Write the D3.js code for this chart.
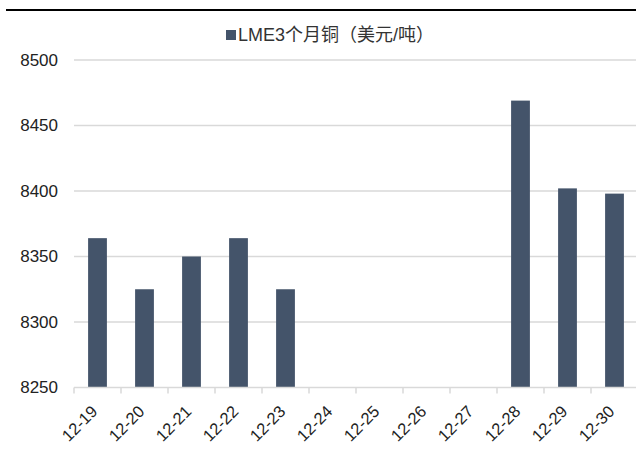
<!DOCTYPE html>
<html>
<head>
<meta charset="utf-8">
<script src="https://cdn.jsdelivr.net/npm/d3@7/dist/d3.min.js"></script>
<style>
  html, body { margin: 0; padding: 0; background: #fff; }
  svg { display: block; }
  text { font-family: "Liberation Sans", Arial, "Noto Sans CJK SC", sans-serif; }
</style>
</head>
<body>
<svg id="chart" width="636" height="461"></svg>
<script>
// LME 3-month copper, USD per tonne (no trading 12-24 to 12-27)
const categories = ["12-19", "12-20", "12-21", "12-22", "12-23", "12-24", "12-25", "12-26", "12-27", "12-28", "12-29", "12-30"];
const values = [8364, 8325, 8350, 8364, 8325, null, null, null, null, 8469, 8402, 8398];
const yTicks = [8250, 8300, 8350, 8400, 8450, 8500];
const seriesName = "LME3个月铜（美元/吨）";

const svg = d3.select("#chart");
const W = 636, H = 461;
const margin = { left: 74, top: 60, right: -2, bottom: 73.5 };
const plotW = W - margin.left - margin.right;
const plotH = H - margin.top - margin.bottom;
const barColor = "#44546a";
const gridColor = "#d9d9d9";

// top rule
svg.append("line")
  .attr("x1", 6).attr("x2", W).attr("y1", 10).attr("y2", 10)
  .attr("stroke", "#000").attr("stroke-width", 2);

const x = d3.scaleBand().domain(categories).range([0, plotW]).paddingInner(0.6).paddingOuter(0.3);
const y = d3.scaleLinear().domain([8250, 8500]).range([plotH, 0]);

const g = svg.append("g").attr("transform", `translate(${margin.left},${margin.top})`);

// horizontal gridlines
g.append("g").selectAll("line")
  .data(yTicks.filter(t => t !== 8250))
  .join("line")
  .attr("x1", 0).attr("x2", plotW)
  .attr("y1", d => y(d)).attr("y2", d => y(d))
  .attr("stroke", gridColor).attr("stroke-width", 1.5);

// y axis labels
const yAxis = d3.axisLeft(y).tickValues(yTicks).tickSize(0).tickPadding(16).tickFormat(d3.format("d"));
g.append("g").call(yAxis)
  .call(s => s.select(".domain").remove())
  .selectAll("text")
  .attr("font-size", 17)
  .attr("fill", "#222");

// bars
g.append("g").selectAll("rect")
  .data(categories.map((c, i) => ({ c, v: values[i] })).filter(d => d.v != null))
  .join("rect")
  .attr("x", d => x(d.c))
  .attr("width", x.bandwidth())
  .attr("y", d => y(d.v))
  .attr("height", d => y(8250) - y(d.v))
  .attr("fill", barColor);

// x axis: baseline, ticks at category boundaries, rotated labels
const step = x.step();
const boundaries = d3.range(categories.length + 1).map(i => i * step);
const xg = g.append("g").attr("transform", `translate(0,${plotH})`);
xg.append("line")
  .attr("x1", 0).attr("x2", plotW).attr("y1", 0).attr("y2", 0)
  .attr("stroke", gridColor).attr("stroke-width", 1.5);
xg.selectAll("line.tick")
  .data(boundaries)
  .join("line")
  .attr("class", "tick")
  .attr("x1", d => d).attr("x2", d => d)
  .attr("y1", 0).attr("y2", 6)
  .attr("stroke", gridColor).attr("stroke-width", 1.5);
xg.selectAll("text")
  .data(categories)
  .join("text")
  .attr("transform", d => `translate(${x(d) + x.bandwidth() / 2 - 3},${21}) rotate(-45)`)
  .attr("text-anchor", "end")
  .attr("dy", "0.35em")
  .attr("font-size", 16.5)
  .attr("fill", "#222")
  .text(d => d);

// legend
const legend = svg.append("g").attr("transform", "translate(226,35)");
legend.append("rect")
  .attr("x", 0).attr("y", -5).attr("width", 10).attr("height", 10)
  .attr("fill", barColor);
legend.append("text")
  .attr("x", 12).attr("y", 0).attr("dy", "0.36em")
  .attr("font-size", 18)
  .attr("fill", "#333")
  .text(seriesName);
</script>
</body>
</html>
